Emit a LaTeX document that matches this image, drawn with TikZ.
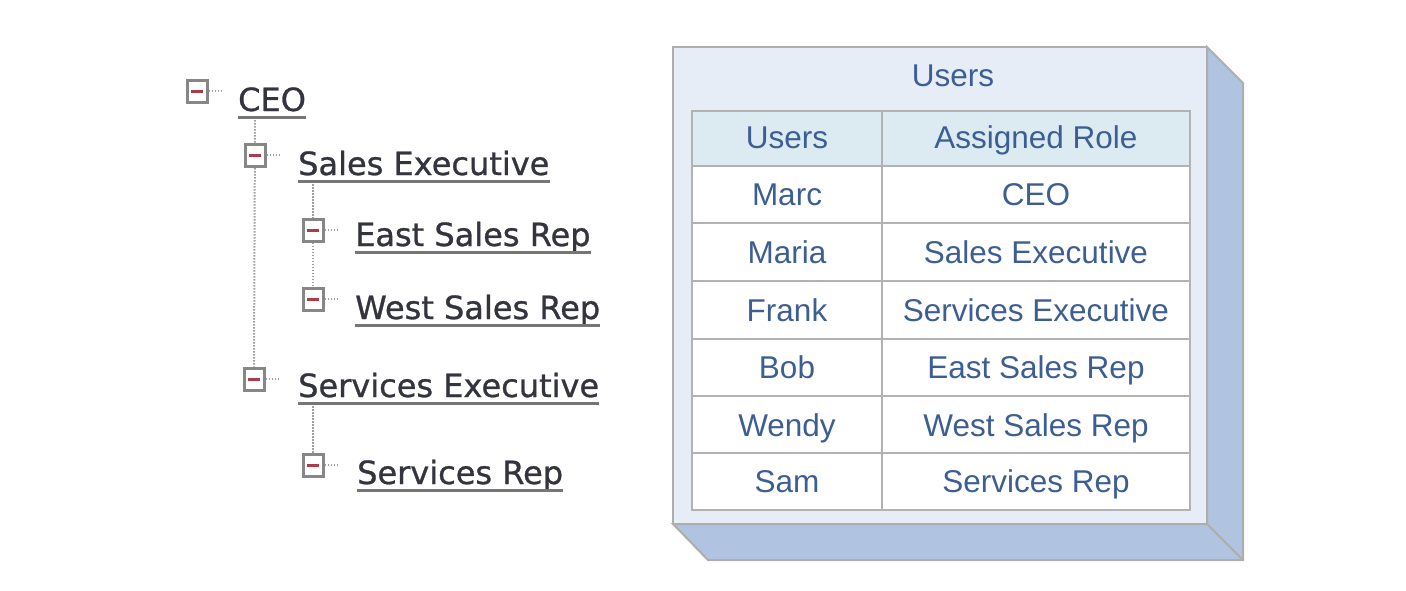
\documentclass[tikz,border=0pt]{standalone}
\usepackage{fontspec}
\usetikzlibrary{backgrounds}
\setmainfont{Liberation Sans}
\newfontfamily\treefont[FakeBold=0.9]{DejaVu Sans}
\begin{document}
\definecolor{treetext}{HTML}{34343F}
\definecolor{uline}{HTML}{767676}
\definecolor{dotgray}{HTML}{A0A0A0}
\definecolor{boxgray}{HTML}{878787}
\definecolor{minusred}{HTML}{B03A4A}
\definecolor{panelfront}{HTML}{E6EDF7}
\definecolor{panelside}{HTML}{B0C3E0}
\definecolor{paneledge}{HTML}{AEAEAE}
\definecolor{headfill}{HTML}{DCEBF2}
\definecolor{gridgray}{HTML}{B2B2B2}
\definecolor{celltext}{HTML}{3D5E92}
\begin{tikzpicture}[x=1pt,y=-1pt,
  togglebox/.style={rectangle,draw=boxgray,line width=3pt,fill=white,
    minimum width=20pt,minimum height=22pt,inner sep=0pt,
    path picture={\draw[minusred,line width=3pt]
      ([xshift=-6pt]path picture bounding box.center) --
      ([xshift=6pt]path picture bounding box.center);}},
  treelink/.style={dotgray,line width=2pt,dash pattern=on 1.5pt off 1.5pt},
  rolelabel/.style={anchor=base west,inner sep=0pt,font=\treefont\fontsize{32}{38}\selectfont,text=treetext},
  underl/.style={uline,line width=3pt},
  cell/.style={anchor=base,font=\fontsize{31.5}{38}\selectfont,text=celltext,inner sep=0pt},
  grid/.style={gridgray,line width=2.8pt}
]
\useasboundingbox (0,0) rectangle (1406,590);

% ---------- role hierarchy ----------
\node[togglebox] (b1) at (197,91) {};
\node[togglebox] (b2) at (255,155) {};
\node[togglebox] (b3) at (313,230) {};
\node[togglebox] (b4) at (313,299) {};
\node[togglebox] (b5) at (254,379) {};
\node[togglebox] (b6) at (313,465) {};

\node[rolelabel] (t1) at (238,111) {CEO};
\node[rolelabel] (t2) at (298,175) {Sales Executive};
\node[rolelabel] (t3) at (355,246) {East Sales Rep};
\node[rolelabel] (t4) at (355,319) {West Sales Rep};
\node[rolelabel] (t5) at (298,397) {Services Executive};
\node[rolelabel] (t6) at (357,484) {Services Rep};

\foreach \t in {t1,t2,t3,t4,t5,t6}
  \draw[underl] ([yshift=-6pt]\t.base west) -- ([yshift=-6pt]\t.base east);

% dotted links run behind the toggle boxes
\begin{scope}[on background layer]
\foreach \b in {b1,b2,b3,b4,b5,b6}
  \draw[treelink] (\b.east) -- ++(14,0);
\coordinate (v1) at (255,120);
\coordinate (v2) at (313,184);
\coordinate (v3) at (313,406);
\draw[treelink] (v1) -- (b5.north);
\draw[treelink] (v2) -- (b3.north);
\draw[treelink] (b3.south) -- (b4.north);
\draw[treelink] (v3) -- (b6.north);
\end{scope}

% ---------- users panel ----------
\draw[paneledge,line width=2pt,fill=panelside]
  (1207,47) -- (1243,83) -- (1243,560) -- (708,560) -- (673,524) -- (1207,524) -- cycle;
\draw[paneledge,line width=2pt] (1207,524) -- (1243,560);
\node[draw=paneledge,line width=2.8pt,fill=panelfront,inner sep=0pt,
  minimum width=534pt,minimum height=477pt] (panel) at (940,285.5) {};
\node[cell] (title) at (953,86) {Users};

% table body
\fill[headfill] (692,111) rectangle (1190,166);
\fill[white] (692,166) rectangle (1190,510);
\draw[grid] (692,111) rectangle (1190,510);
\draw[grid] (882,111) -- (882,510);
\foreach \y in {166,223,281,339,396,453}
  \draw[grid] (692,\y) -- (1190,\y);

\node[cell] (h1) at (787,148) {Users};
\node[cell] (h2) at (1036,148) {Assigned Role};

\node[cell] (u1) at (787,205) {Marc};
\node[cell] (u2) at (787,263) {Maria};
\node[cell] (u3) at (787,321) {Frank};
\node[cell] (u4) at (787,378) {Bob};
\node[cell] (u5) at (787,436) {Wendy};
\node[cell] (u6) at (787,492) {Sam};

\node[cell] (r1) at (1036,205) {CEO};
\node[cell] (r2) at (1036,263) {Sales Executive};
\node[cell] (r3) at (1036,321) {Services Executive};
\node[cell] (r4) at (1036,378) {East Sales Rep};
\node[cell] (r5) at (1036,436) {West Sales Rep};
\node[cell] (r6) at (1036,492) {Services Rep};
\end{tikzpicture}
\end{document}
